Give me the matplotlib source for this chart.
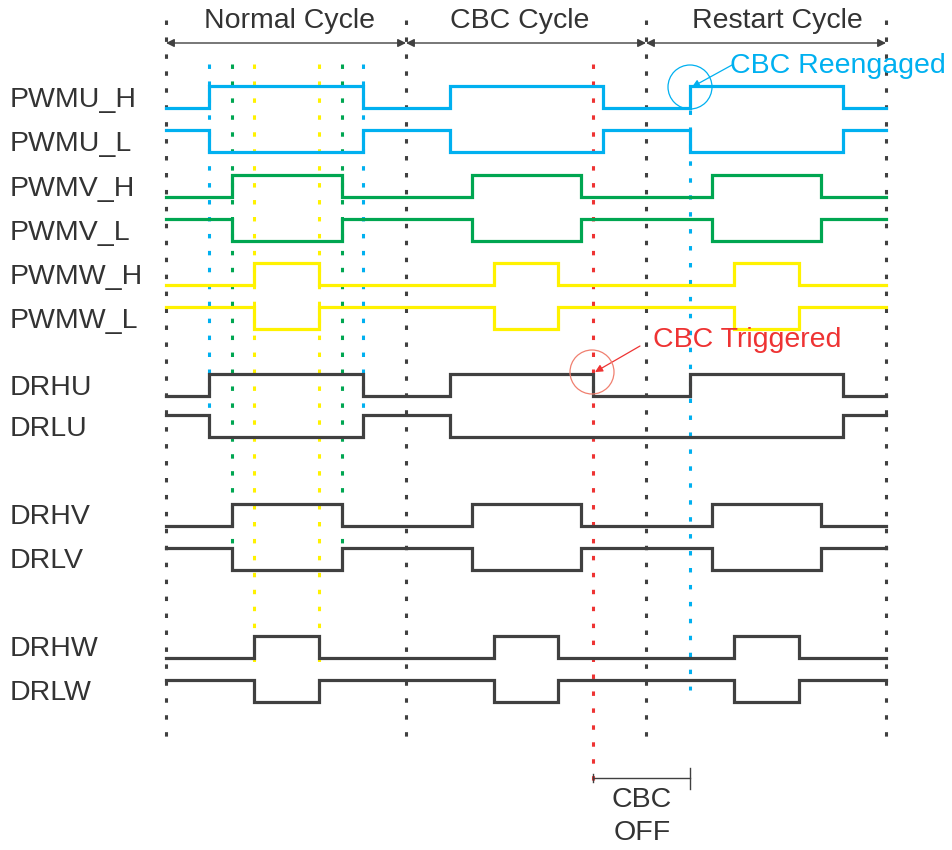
import matplotlib
matplotlib.use("Agg")
import matplotlib.pyplot as plt
from matplotlib.patches import Circle

plt.rcParams['font.family'] = ['Liberation Sans', 'DejaVu Sans']
plt.rcParams['lines.scale_dashes'] = False

# ---------------- data ----------------
cycle_names = ["Normal Cycle", "CBC Cycle", "Restart Cycle"]
cycle_bounds = [0, 240, 480, 720]          # time units

signal_names = ["PWMU_H", "PWMU_L", "PWMV_H", "PWMV_L", "PWMW_H", "PWMW_L",
                "DRHU", "DRLU", "DRHV", "DRLV", "DRHW", "DRLW"]
signal_init = [0, 1, 0, 1, 0, 1, 0, 1, 0, 1, 0, 1]
u_edges = [43, 197, 284, 437, 524, 677]
v_edges = [66, 176, 306, 415, 546, 655]
w_edges = [88, 153, 328, 392, 568, 633]
drhu_edges = [43, 197, 284, 427, 524, 677]
drlu_edges = [43, 197, 284, 677]
signal_edges = [u_edges, u_edges, v_edges, v_edges, w_edges, w_edges,
                drhu_edges, drlu_edges, v_edges, v_edges, w_edges, w_edges]

cbc_trigger_t = 427
cbc_reengage_t = 524

# ---------------- layout / style ----------------
BLUE = "#00B0F0"
GREEN = "#00A651"
YELLOW = "#FFF200"
GRAY = "#404040"
RED = "#EE3333"
TXT = "#333333"

row_low = [108, 152, 197, 241, 285, 329, 396, 437, 526, 570, 658, 702]
amp = 22
sig_colors = [BLUE, BLUE, GREEN, GREEN, YELLOW, YELLOW] + [GRAY] * 6
x0_px = 166

fig = plt.figure(figsize=(9.52, 8.5), dpi=100)
ax = fig.add_axes([0, 0, 1, 1])
ax.set_xlim(-x0_px, 952 - x0_px)
ax.set_ylim(850, 0)
ax.axis("off")

FS = 20.5

def wave(init, edges, end):
    xs, ys = [cycle_bounds[0]], [init]
    lvl = init
    for e in edges:
        xs += [e, e]
        ys += [lvl, 1 - lvl]
        lvl = 1 - lvl
    xs.append(end)
    ys.append(lvl)
    return xs, ys

dash = (0, (3.2, 9.0))

# vertical guide lines
def vline(t, y0, y1, color, lw=2.2):
    ax.plot([t, t], [y0, y1], color=color, lw=lw, linestyle=dash,
            solid_capstyle="butt", dash_capstyle="butt", zorder=1)

for t in cycle_bounds:
    vline(t, 20, 745, GRAY)
for t in u_edges[:2]:
    vline(t, 64, 412, BLUE)
for t in v_edges[:2]:
    vline(t, 64, 550, GREEN)
for t in w_edges[:2]:
    vline(t, 64, 668, YELLOW)
vline(cbc_trigger_t, 64, 790, RED)
vline(cbc_reengage_t, 110, 690, BLUE)

# waveforms
for name, init, edges, base, col in zip(signal_names, signal_init, signal_edges,
                                         row_low, sig_colors):
    xs, ys = wave(init, edges, cycle_bounds[-1])
    ax.plot(xs, [base - amp * v for v in ys], color=col, lw=2.3,
            solid_joinstyle="miter", zorder=3)
    ax.text(10 - x0_px, base - amp / 2 + 2.5, name, fontsize=FS, color=TXT,
            ha="left", va="center")

# cycle headers and arrows
header_t = [123, 354, 611]
for i, nm in enumerate(cycle_names):
    ax.annotate("", xy=(cycle_bounds[i + 1], 43), xytext=(cycle_bounds[i], 43),
                arrowprops=dict(arrowstyle="<|-|>", color=GRAY, lw=1.0,
                                mutation_scale=12, shrinkA=0, shrinkB=0))
    ax.text(header_t[i], 21, nm, fontsize=FS, color=TXT, ha="center", va="center")

# CBC Reengaged annotation
ax.add_patch(Circle((cbc_reengage_t, 87), 22, fill=False, ec=BLUE, lw=0.9, zorder=4))
ax.annotate("", xy=(cbc_reengage_t + 2, 87), xytext=(cbc_reengage_t + 42, 65),
            arrowprops=dict(arrowstyle="-|>", color=BLUE, lw=0.9,
                            mutation_scale=11, shrinkA=0, shrinkB=0))
ax.text(cbc_reengage_t + 40, 66, "CBC Reengaged", fontsize=FS, color=BLUE,
        ha="left", va="center")

# CBC Triggered annotation
ax.add_patch(Circle((cbc_trigger_t - 1, 372), 22, fill=False, ec="#F08070", lw=0.9, zorder=4))
ax.annotate("", xy=(cbc_trigger_t + 2, 372), xytext=(cbc_trigger_t + 47, 346),
            arrowprops=dict(arrowstyle="-|>", color=RED, lw=0.9,
                            mutation_scale=11, shrinkA=0, shrinkB=0))
ax.text(cbc_trigger_t + 60, 340, "CBC Triggered", fontsize=FS, color=RED,
        ha="left", va="center")

# CBC OFF bracket
ax.plot([cbc_trigger_t, cbc_reengage_t], [778, 778], color=GRAY, lw=1.0, zorder=4)
ax.plot([cbc_reengage_t, cbc_reengage_t], [768, 789], color=GRAY, lw=1.0, zorder=4)
ax.plot([cbc_trigger_t, cbc_trigger_t], [774, 782], color=GRAY, lw=1.0, zorder=4)
mid = (cbc_trigger_t + cbc_reengage_t) / 2 + 0.5
ax.text(mid, 800, "CBC", fontsize=FS, color=TXT, ha="center", va="center")
ax.text(mid, 833, "OFF", fontsize=FS, color=TXT, ha="center", va="center")

fig.savefig("out.png", dpi=100, facecolor="white")
